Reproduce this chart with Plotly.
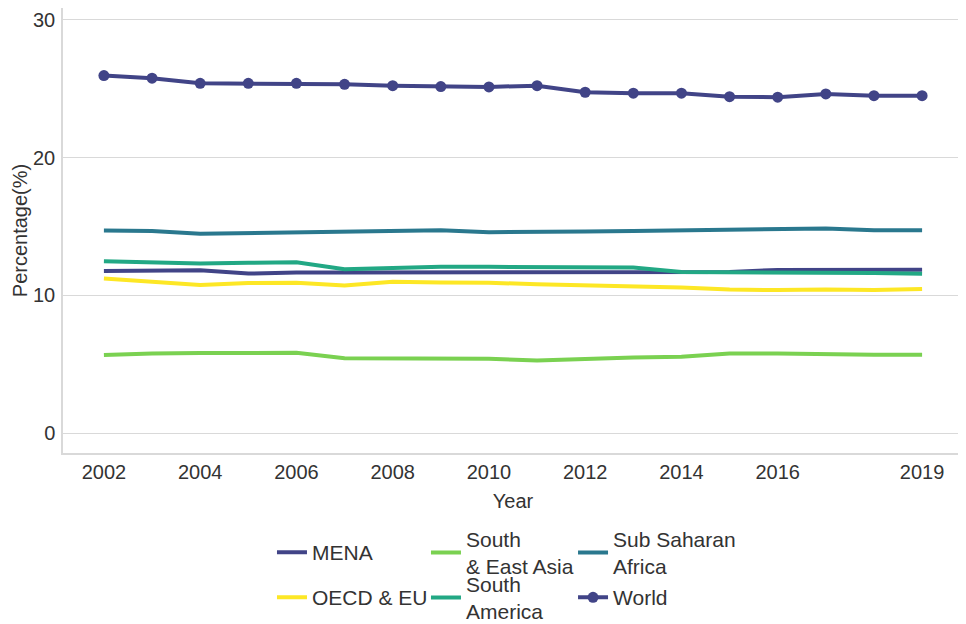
import plotly.graph_objects as go

years = list(range(2002, 2020))

mena = [11.76, 11.76, 11.83, 11.58, 11.66, 11.66, 11.66, 11.66, 11.66,
        11.66, 11.64, 11.64, 11.64, 11.70, 11.85, 11.86, 11.86, 11.86]
oecd_eu = [11.22, 11.00, 10.76, 10.89, 10.91, 10.71, 10.98, 10.93, 10.91,
           10.81, 10.74, 10.67, 10.57, 10.42, 10.38, 10.42, 10.38, 10.47]
south_east_asia = [5.66, 5.78, 5.81, 5.81, 5.83, 5.44, 5.44, 5.44, 5.39,
                   5.27, 5.39, 5.49, 5.54, 5.78, 5.78, 5.71, 5.68, 5.68]
south_america = [12.48, 12.36, 12.31, 12.36, 12.41, 11.90, 12.00, 12.07, 12.07,
                 12.05, 12.02, 12.02, 11.69, 11.69, 11.64, 11.62, 11.62, 11.56]
sub_saharan = [14.71, 14.68, 14.47, 14.52, 14.56, 14.68, 14.66, 14.73, 14.59,
               14.59, 14.63, 14.68, 14.73, 14.78, 14.81, 14.85, 14.73, 14.73]
world = [25.96, 25.77, 25.40, 25.40, 25.40, 25.33, 25.23, 25.16, 25.14,
         25.23, 24.75, 24.68, 24.68, 24.43, 24.39, 24.63, 24.50, 24.50]

x_tickvals = [2002, 2004, 2006, 2008, 2010, 2012, 2014, 2016, 2019]
y_tickvals = [0, 10, 20, 30]

series = [
    ("MENA", mena, "#414487", "lines", "legend"),
    ("OECD &amp; EU", oecd_eu, "#FDE725", "lines", "legend2"),
    ("South<br>&amp; East Asia", south_east_asia, "#7AD151", "lines", "legend3"),
    ("South<br>America", south_america, "#22A884", "lines", "legend4"),
    ("Sub Saharan<br>Africa", sub_saharan, "#2A788E", "lines", "legend5"),
    ("World", world, "#414487", "lines+markers", "legend6"),
]

fig = go.Figure()
for name, vals, color, mode, leg in series:
    fig.add_trace(go.Scatter(
        x=years, y=vals, name=name, mode=mode, legend=leg,
        line=dict(color=color, width=4),
        marker=dict(color=color, size=11),
        hoverinfo="x+y+name",
    ))

legend_font = dict(family="Liberation Sans, Arial, sans-serif", size=21, color="#333333")
col_x = [0.2322, 0.4033, 0.5667]
row_y = [-0.2239, -0.3250]
legend_pos = {
    "legend": (col_x[0], row_y[0]),
    "legend2": (col_x[0], row_y[1]),
    "legend3": (col_x[1], row_y[0]),
    "legend4": (col_x[1], row_y[1]),
    "legend5": (col_x[2], row_y[0]),
    "legend6": (col_x[2], row_y[1]),
}
leg_layout = {}
for key, (lx, ly) in legend_pos.items():
    leg_layout[key] = dict(
        x=lx, y=ly, xanchor="left", yanchor="middle",
        font=legend_font, bgcolor="rgba(0,0,0,0)", borderwidth=0,
        itemwidth=30,
    )

fig.update_layout(
    width=966, height=624,
    margin=dict(l=55, r=11, t=0, b=179, autoexpand=False),
    paper_bgcolor="white", plot_bgcolor="white",
    font=dict(family="Liberation Sans, Arial, sans-serif", color="#333333"),
    showlegend=True,
    **leg_layout,
)

fig.update_xaxes(
    range=[2001.15, 2019.85],
    tickmode="array", tickvals=x_tickvals, ticktext=[str(v) for v in x_tickvals],
    showgrid=False, zeroline=False,
    showline=True, linecolor="#d9d9d9", linewidth=1.5,
    ticks="",
    tickfont=dict(size=20, color="#333333"),
    title=dict(text="Year", font=dict(size=20, color="#333333"), standoff=12),
)
fig.update_yaxes(
    range=[-1.45, 30.87],
    tickmode="array", tickvals=y_tickvals, ticktext=[str(v) for v in y_tickvals],
    showgrid=True, gridcolor="#d9d9d9", gridwidth=1.3, zeroline=False,
    showline=True, linecolor="#d9d9d9", linewidth=1.5,
    ticks="outside", ticklen=2, tickcolor="rgba(0,0,0,0)",
    tickfont=dict(size=20, color="#333333"),
    title=dict(text="Percentage(%)", font=dict(size=20, color="#333333"), standoff=0),
)

fig.write_html("out.html")
